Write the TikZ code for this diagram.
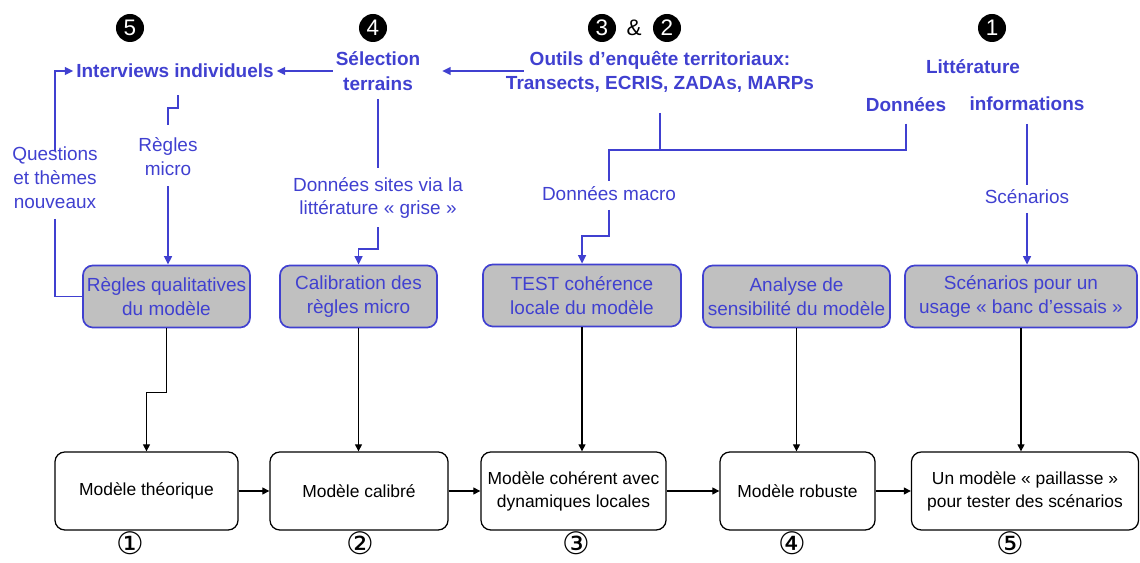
\documentclass[tikz,border=0pt]{standalone}
\usepackage{fontspec}
\setmainfont{Liberation Sans}
\newfontfamily\symfont{DejaVu Sans}
\usetikzlibrary{arrows.meta,calc}
\definecolor{bleu}{RGB}{64,64,208}
\definecolor{gris}{RGB}{192,192,192}

\begin{document}
\begin{tikzpicture}[x=0.025cm, y=-0.025cm,
		every node/.style={font=\fontsize{13.5}{17}\selectfont, align=center},
		modele/.style={draw=black, line width=0.9pt, rounded corners=7pt, fill=white, minimum height=1.95cm, font=\fontsize{12.4}{16.5}\selectfont},
		regle/.style={draw=bleu, line width=1.2pt, rounded corners=7pt, fill=gris, text=bleu, minimum height=1.55cm, inner sep=1pt},
		titre/.style={text=bleu, font=\bfseries\fontsize{13.5}{17.5}\selectfont, inner sep=2pt},
		info/.style={text=bleu, inner sep=2pt},
		pastille/.style={circle, fill=black, text=white, inner sep=0pt, minimum size=0.7cm, font=\fontsize{16}{16}\selectfont},
		rond/.style={font=\symfont\fontsize{22}{22}\selectfont, inner sep=0pt},
		fleche/.style={-{Triangle[length=5pt,width=5pt]}, line width=0.8pt},
		trait/.style={draw=bleu, line width=1.3pt},
		flechebleue/.style={trait, -{Triangle[length=6pt,width=5.5pt]}}]
		\useasboundingbox (0,0) rectangle (1140,563);
		
		%---------------- BOTTOM: MODELS ----------------
		\node[modele, minimum width=4.575cm] (m1) at (146.5,491) {Modèle théorique};
		\node[modele, minimum width=4.45cm] (m2) at (359,491) {Modèle calibré};
		\node[modele, minimum width=4.625cm] (m3) at (573.5,491) {Modèle cohérent avec\\dynamiques locales};
		\node[modele, minimum width=3.875cm] (m4) at (797.5,491) {Modèle robuste};
		\node[modele, minimum width=5.675cm] (m5) at (1025,491) {Un modèle « paillasse »\\pour tester des scénarios};
		
		% step numbers
		\foreach \N/\X/\T in {n1/130/①,n2/360/②,n3/576/③,n4/792/④,n5/1010/⑤} {
			\node[rond] (\N) at (\X,543) {\T};
		}
		
		% chain
		\foreach \A/\B in {m1/m2,m2/m3,m3/m4,m4/m5} {
			\draw[fleche] (\A) -- (\B);
		}
		
		%---------------- MIDDLE: GREY BOXES ----------------
		\node[regle, minimum width=4.175cm] (g1) at (166.5,296.5) {Règles qualitatives\\du modèle};
		\node[regle, minimum width=3.925cm] (g2) at (358.5,296.5) {Calibration des\\règles micro};
		\node[regle, minimum width=4.95cm] (g3) at (582,295.5) {TEST cohérence\\locale du modèle};
		\node[regle, minimum width=4.675cm] (g4) at (796.5,296.5) {Analyse de\\sensibilité du modèle};
		\node[regle, minimum width=5.8cm] (g5) at (1021,296.5) {Scénarios pour un\\usage « banc d’essais »};
		
		\draw[fleche] (g1.south) -- ++(0,64) -| (m1.north);
		\foreach \G/\M in {g2/m2,g3/m3,g4/m4,g5/m5} {
			\draw[fleche] (\G.south) -- (\G.south |- \M.north);
		}
		
		%---------------- TOP: SOURCES ----------------
		\node[pastille] (p5) at (130,28) {5};
		\node[pastille] (p4) at (373,28) {4};
		\node[pastille] (p3) at (602,28) {3};
		\node[font=\fontsize{16}{16}\selectfont] (et) at (634,28) {\&};
		\node[pastille] (p2) at (667,28) {2};
		\node[pastille] (p1) at (992,28) {1};
		
		\node[titre] (iv) at (175,71) {Interviews individuels};
		\node[titre] (sel) at (378,71) {Sélection\\terrains};
		\node[titre] (outils) at (660,72) {Outils d’enquête territoriaux:\\Transects, ECRIS, ZADAs,\ MARPs};
		\node[titre] (lit) at (973,67) {Littérature};
		\node[titre] (don) at (906,105) {Données};
		\node[titre] (infos) at (1027,104) {informations};
		
		\node[info] (rm) at (168,157) {Règles\\micro};
		\node[info] (qt) at (55,178) {Questions\\et thèmes\\nouveaux};
		\node[info] (dsv) at (378,198) {Données sites via la\\littérature « grise »};
		\node[info] (dm) at (609,194) {Données macro};
		\node[info] (sc) at (1027,197) {Scénarios};
		
		% horizontal flow
		\draw[flechebleue, shorten >=13.5pt] ([xshift=15pt]outils.west |- sel.east) -- (sel.east);
		\draw[flechebleue] (sel.west) -- (iv.east);
		\draw[flechebleue, shorten <=-5pt] (qt.north) |- (iv.west);
		\draw[trait, shorten <=5pt] (qt.south) |- (g1.west);
		
		% interviews -> regles micro -> g1
		\draw[trait] ([xshift=2pt]iv.south) ++(0,14) -- ++(0,13) -| ([yshift=7pt]rm.north);
		\draw[flechebleue, shorten <=5pt] (rm.south) -- (rm.south |- g1.north);
		
		% selection -> donnees sites -> g2
		\draw[trait, shorten <=4pt, shorten >=4pt] (sel.south) -- (dsv.north);
		\draw[flechebleue] (dsv.south) ++(0,5) -- ++(0,22) -| (g2.north);
		
		% outils & donnees -> donnees macro -> g3
		\coordinate (jonction) at (609,150);
		\draw[trait] ([yshift=-6pt]don.south) |- (jonction) -- ([yshift=2pt]dm.north);
		\draw[trait] ([yshift=-12pt]outils.south) -- (outils.south |- jonction);
		\draw[flechebleue] ([yshift=-4pt]dm.south) -- ++(0,26) -| (g3.north);
		
		% informations -> scenarios -> g5
		\draw[trait, shorten <=7pt, shorten >=1pt] (infos.south) -- (sc.north);
		\draw[flechebleue, shorten <=4pt] (sc.south) -- (sc.south |- g5.north);
	\end{tikzpicture}
\end{document}
